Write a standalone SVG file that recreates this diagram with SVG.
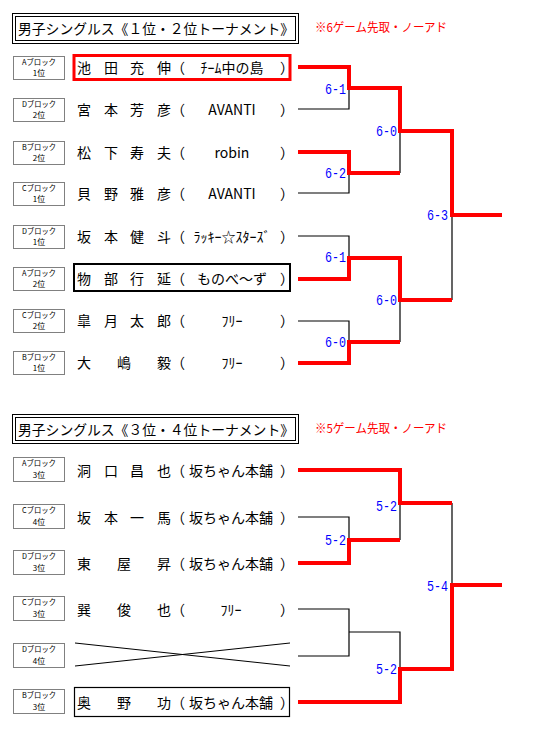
<svg xmlns="http://www.w3.org/2000/svg" width="533" height="731" viewBox="0 0 533 731">
<style>
text{font-family:"Noto Sans CJK JP","Liberation Sans",sans-serif;fill:#000}
.t{font-size:14px}
.n{font-size:14px}
.note{font-size:12px;fill:#ff0000}
.lb{font-size:8px;text-anchor:middle}
.sc{font-family:"Liberation Mono","DejaVu Sans Mono",monospace;font-size:15px;fill:#0000ff;text-anchor:end}
.tm{text-anchor:middle}
.dot{fill:#fff;stroke:#000;stroke-width:1;stroke-dasharray:1 1}
.red{fill:none;stroke:#ff0000;stroke-width:4}
.blk{fill:none;stroke:#000;stroke-width:1.2}
</style>
<rect width="533" height="731" fill="#fff"/>

<g id="title1">
<rect x="12.5" y="13.5" width="286" height="30" fill="none" stroke="#000"/>
<rect x="15.5" y="16.5" width="280" height="24" fill="none" stroke="#000"/>
<text class="t" x="18" y="34" textLength="276" lengthAdjust="spacingAndGlyphs">男子シングルス《１位・２位トーナメント》</text>
</g>
<text class="note" x="315" y="32" textLength="132" lengthAdjust="spacingAndGlyphs">※6ゲーム先取・ノーアド</text>

<g id="u1"><rect class="dot" x="13.5" y="56.5" width="51" height="23"/><text class="lb" x="39" y="65" textLength="34" lengthAdjust="spacingAndGlyphs">Aブロック</text><text class="lb" x="39" y="76">1位</text>
<rect x="74" y="55.5" width="216" height="24" fill="none" stroke="#ff0000" stroke-width="3"/>
<text class="n" x="77" y="73">池</text><text class="n" x="104" y="73">田</text><text class="n" x="130" y="73">充</text><text class="n" x="157" y="73">伸</text><text class="n" x="171" y="73">（</text><text class="n tm" x="232" y="73">ﾁｰﾑ中の島</text><text class="n" x="280" y="73">）</text></g>

<g id="u2"><rect class="dot" x="13.5" y="98.5" width="51" height="23"/><text class="lb" x="39" y="107" textLength="34" lengthAdjust="spacingAndGlyphs">Dブロック</text><text class="lb" x="39" y="118">2位</text>
<text class="n" x="77" y="115">宮</text><text class="n" x="104" y="115">本</text><text class="n" x="130" y="115">芳</text><text class="n" x="157" y="115">彦</text><text class="n" x="171" y="115">（</text><text class="n tm" x="232" y="115">AVANTI</text><text class="n" x="280" y="115">）</text></g>

<g id="u3"><rect class="dot" x="13.5" y="141.5" width="51" height="23"/><text class="lb" x="39" y="150" textLength="34" lengthAdjust="spacingAndGlyphs">Bブロック</text><text class="lb" x="39" y="161">2位</text>
<text class="n" x="77" y="158">松</text><text class="n" x="104" y="158">下</text><text class="n" x="130" y="158">寿</text><text class="n" x="157" y="158">夫</text><text class="n" x="171" y="158">（</text><text class="n tm" x="232" y="158">robin</text><text class="n" x="280" y="158">）</text></g>

<g id="u4"><rect class="dot" x="13.5" y="182.5" width="51" height="23"/><text class="lb" x="39" y="191" textLength="34" lengthAdjust="spacingAndGlyphs">Cブロック</text><text class="lb" x="39" y="202">1位</text>
<text class="n" x="77" y="199">貝</text><text class="n" x="104" y="199">野</text><text class="n" x="130" y="199">雅</text><text class="n" x="157" y="199">彦</text><text class="n" x="171" y="199">（</text><text class="n tm" x="232" y="199">AVANTI</text><text class="n" x="280" y="199">）</text></g>

<g id="u5"><rect class="dot" x="13.5" y="225.5" width="51" height="23"/><text class="lb" x="39" y="234" textLength="34" lengthAdjust="spacingAndGlyphs">Dブロック</text><text class="lb" x="39" y="245">1位</text>
<text class="n" x="77" y="242">坂</text><text class="n" x="104" y="242">本</text><text class="n" x="130" y="242">健</text><text class="n" x="157" y="242">斗</text><text class="n" x="171" y="242">（</text><text class="n tm" x="232" y="242">ﾗｯｷｰ☆ｽﾀｰｽﾞ</text><text class="n" x="280" y="242">）</text></g>

<g id="u6"><rect class="dot" x="13.5" y="267.5" width="51" height="23"/><text class="lb" x="39" y="276" textLength="34" lengthAdjust="spacingAndGlyphs">Aブロック</text><text class="lb" x="39" y="287">2位</text>
<rect x="74" y="264" width="216" height="27" fill="none" stroke="#000" stroke-width="2"/>
<text class="n" x="77" y="284">物</text><text class="n" x="104" y="284">部</text><text class="n" x="130" y="284">行</text><text class="n" x="157" y="284">延</text><text class="n" x="171" y="284">（</text><text class="n tm" x="232" y="284">ものべ～ず</text><text class="n" x="280" y="284">）</text></g>

<g id="u7"><rect class="dot" x="13.5" y="309.5" width="51" height="23"/><text class="lb" x="39" y="318" textLength="34" lengthAdjust="spacingAndGlyphs">Cブロック</text><text class="lb" x="39" y="329">2位</text>
<text class="n" x="77" y="326">皐</text><text class="n" x="104" y="326">月</text><text class="n" x="130" y="326">太</text><text class="n" x="157" y="326">郎</text><text class="n" x="171" y="326">（</text><text class="n tm" x="232" y="326">ﾌﾘｰ</text><text class="n" x="280" y="326">）</text></g>

<g id="u8"><rect class="dot" x="13.5" y="351.5" width="51" height="23"/><text class="lb" x="39" y="360" textLength="34" lengthAdjust="spacingAndGlyphs">Bブロック</text><text class="lb" x="39" y="371">1位</text>
<text class="n" x="77" y="368">大</text><text class="n" x="117" y="368">嶋</text><text class="n" x="157" y="368">毅</text><text class="n" x="171" y="368">（</text><text class="n tm" x="232" y="368">ﾌﾘｰ</text><text class="n" x="280" y="368">）</text></g>

<g id="title2">
<rect x="12.5" y="414.5" width="286" height="29" fill="none" stroke="#000"/>
<rect x="15.5" y="417.5" width="280" height="23" fill="none" stroke="#000"/>
<text class="t" x="18" y="435" textLength="276" lengthAdjust="spacingAndGlyphs">男子シングルス《３位・４位トーナメント》</text>
</g>
<text class="note" x="315" y="433" textLength="132" lengthAdjust="spacingAndGlyphs">※5ゲーム先取・ノーアド</text>

<g id="l1"><rect class="dot" x="13.5" y="457.5" width="51" height="24"/><text class="lb" x="39" y="466" textLength="34" lengthAdjust="spacingAndGlyphs">Aブロック</text><text class="lb" x="39" y="478">3位</text>
<text class="n" x="77" y="476">洞</text><text class="n" x="104" y="476">口</text><text class="n" x="130" y="476">昌</text><text class="n" x="157" y="476">也</text><text class="n" x="171" y="476">（</text><text class="n tm" x="231" y="476">坂ちゃん本舗</text><text class="n" x="280" y="476">）</text></g>

<g id="l2"><rect class="dot" x="13.5" y="504.5" width="51" height="24"/><text class="lb" x="39" y="513" textLength="34" lengthAdjust="spacingAndGlyphs">Cブロック</text><text class="lb" x="39" y="525">4位</text>
<text class="n" x="77" y="523">坂</text><text class="n" x="104" y="523">本</text><text class="n" x="130" y="523">一</text><text class="n" x="157" y="523">馬</text><text class="n" x="171" y="523">（</text><text class="n tm" x="231" y="523">坂ちゃん本舗</text><text class="n" x="280" y="523">）</text></g>

<g id="l3"><rect class="dot" x="13.5" y="550.5" width="51" height="24"/><text class="lb" x="39" y="559" textLength="34" lengthAdjust="spacingAndGlyphs">Dブロック</text><text class="lb" x="39" y="571">3位</text>
<text class="n" x="77" y="569">東</text><text class="n" x="117" y="569">屋</text><text class="n" x="157" y="569">昇</text><text class="n" x="171" y="569">（</text><text class="n tm" x="231" y="569">坂ちゃん本舗</text><text class="n" x="280" y="569">）</text></g>

<g id="l4"><rect class="dot" x="13.5" y="596.5" width="51" height="24"/><text class="lb" x="39" y="605" textLength="34" lengthAdjust="spacingAndGlyphs">Cブロック</text><text class="lb" x="39" y="617">3位</text>
<text class="n" x="77" y="615">巽</text><text class="n" x="117" y="615">俊</text><text class="n" x="157" y="615">也</text><text class="n" x="171" y="615">（</text><text class="n tm" x="231" y="615">ﾌﾘｰ</text><text class="n" x="280" y="615">）</text></g>

<g id="l5"><rect class="dot" x="13.5" y="643.5" width="51" height="24"/><text class="lb" x="39" y="652" textLength="34" lengthAdjust="spacingAndGlyphs">Dブロック</text><text class="lb" x="39" y="664">4位</text>
<line x1="75" y1="643" x2="290" y2="666" stroke="#000" stroke-width="1"/>
<line x1="75" y1="666" x2="290" y2="643" stroke="#000" stroke-width="1"/></g>

<g id="l6"><rect class="dot" x="13.5" y="689.5" width="51" height="24"/><text class="lb" x="39" y="698" textLength="34" lengthAdjust="spacingAndGlyphs">Bブロック</text><text class="lb" x="39" y="710">3位</text>
<rect x="74.5" y="687.5" width="215" height="29" fill="none" stroke="#000" stroke-width="1.2"/>
<text class="n" x="77" y="708">奥</text><text class="n" x="117" y="708">野</text><text class="n" x="157" y="708">功</text><text class="n" x="171" y="708">（</text><text class="n tm" x="231" y="708">坂ちゃん本舗</text><text class="n" x="280" y="708">）</text></g>

<g id="connectors">
<path class="blk" d="M298,109 H349 V88 M298,193 H349 V173 M400,131 V173 M298,236 H349 V258 M298,321 H349 V342 M400,300 V342 M452,215 V300"/>
<path class="red" d="M298,67 H349 V88 H400 V131 H452 V215 H502"/>
<path class="red" d="M298,152 H349 V173 H400"/>
<path class="red" d="M298,279 H349 V258 H400 V300 H452"/>
<path class="red" d="M298,363 H349 V342 H400"/>
<path class="blk" d="M452,503 V585 M298,517 H349 V540 M400,503 V540 M298,609 H349 V656 H298 M349,632 H400 V669"/>
<path class="red" d="M298,470 H400 V503 H452"/>
<path class="red" d="M298,563 H349 V540 H400"/>
<path class="red" d="M298,702 H400 V669 H452 V585 H502"/>
</g>

<g id="scores">
<text class="sc" x="346" y="94" textLength="21" lengthAdjust="spacingAndGlyphs">6-1</text>
<text class="sc" x="397" y="136" textLength="21" lengthAdjust="spacingAndGlyphs">6-0</text>
<text class="sc" x="346" y="178" textLength="21" lengthAdjust="spacingAndGlyphs">6-2</text>
<text class="sc" x="448" y="220" textLength="21" lengthAdjust="spacingAndGlyphs">6-3</text>
<text class="sc" x="346" y="262" textLength="21" lengthAdjust="spacingAndGlyphs">6-1</text>
<text class="sc" x="397" y="305" textLength="21" lengthAdjust="spacingAndGlyphs">6-0</text>
<text class="sc" x="346" y="347" textLength="21" lengthAdjust="spacingAndGlyphs">6-0</text>
<text class="sc" x="397" y="511" textLength="21" lengthAdjust="spacingAndGlyphs">5-2</text>
<text class="sc" x="346" y="545" textLength="21" lengthAdjust="spacingAndGlyphs">5-2</text>
<text class="sc" x="448" y="591" textLength="21" lengthAdjust="spacingAndGlyphs">5-4</text>
<text class="sc" x="397" y="674" textLength="21" lengthAdjust="spacingAndGlyphs">5-2</text>
</g>
</svg>
